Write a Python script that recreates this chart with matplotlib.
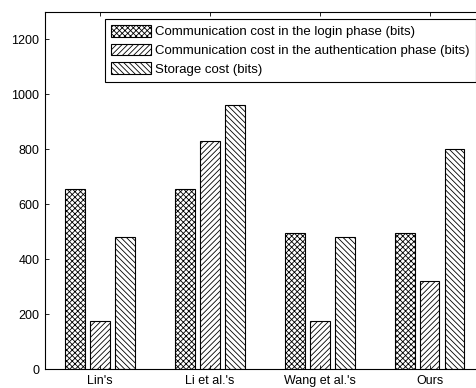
import numpy as np
import matplotlib
matplotlib.use("Agg")
import matplotlib.pyplot as plt

schemes = ["Lin's", "Li et al.'s", "Wang et al.'s", "Ours"]
login_cost = [656, 656, 496, 496]
auth_cost = [176, 832, 176, 320]
storage_cost = [480, 960, 480, 800]
labels = [
    "Communication cost in the login phase (bits)",
    "Communication cost in the authentication phase (bits)",
    "Storage cost (bits)",
]

plt.rcParams["font.family"] = ["Liberation Sans", "DejaVu Sans"]
plt.rcParams["font.size"] = 9
plt.rcParams["hatch.linewidth"] = 0.6

W, H = 477, 388
fig = plt.figure(figsize=(W / 100, H / 100), dpi=100)
left, right, top, bottom = 45, 484.5, 12, 369
ax = fig.add_axes([left / W, (H - bottom) / H, (right - left) / W, (bottom - top) / H])

x = np.arange(1, len(schemes) + 1)
bw = 0.18
off = 0.227
hatches = ["xxxxxx", "//////", "\\\\\\\\\\\\"]
for i, (vals, h, lab) in enumerate(zip([login_cost, auth_cost, storage_cost], hatches, labels)):
    ax.bar(x + (i - 1) * off, vals, bw, color="white", edgecolor="black",
           hatch=h, linewidth=0.8, label=lab)

ax.set_xlim(0.5, 4.5)
ax.set_ylim(0, 1300)
ax.set_xticks(x)
ax.set_xticklabels(schemes)
ax.set_yticks(range(0, 1201, 200))
ax.tick_params(direction="in", top=True, right=True, length=3, width=0.6, pad=4)
for s in ax.spines.values():
    s.set_linewidth(0.8)

leg = ax.legend(loc="upper left", bbox_to_anchor=((105 - left) / (right - left), 1 - 7 / (bottom - top)),
                fancybox=False, edgecolor="black", framealpha=1, borderaxespad=0,
                fontsize=9.5, handlelength=3.0, handleheight=1.0, handletextpad=0.35,
                labelspacing=0.4, borderpad=0.45)
leg.get_frame().set_linewidth(0.8)

fig.savefig("out.png", dpi=100)
